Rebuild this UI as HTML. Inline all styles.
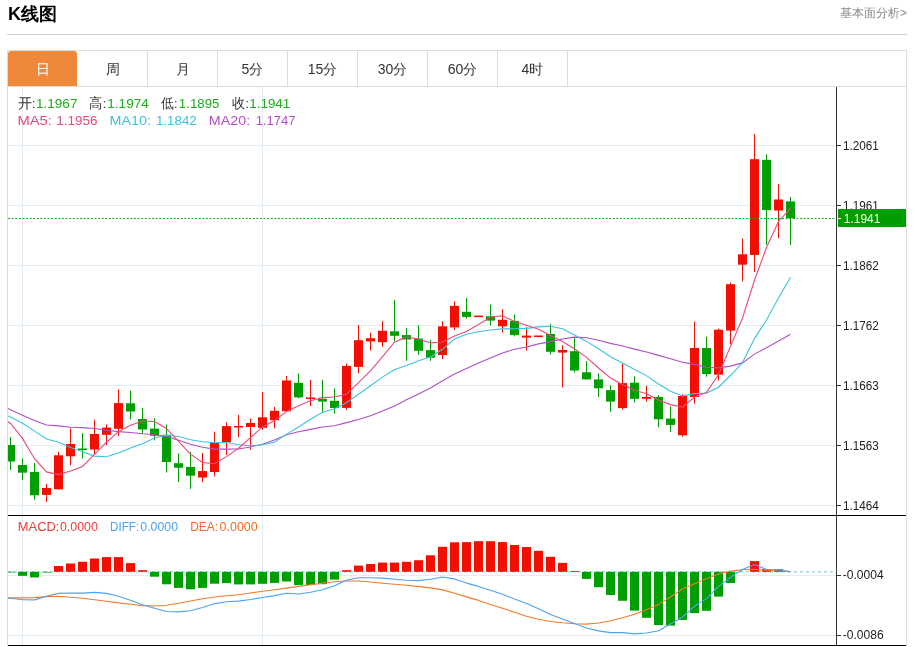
<!DOCTYPE html>
<html><head><meta charset="utf-8">
<style>
html,body{margin:0;padding:0;background:#fff;}
body{width:915px;height:647px;position:relative;overflow:hidden;will-change:transform;font-family:"Liberation Sans",sans-serif;}
.title{position:absolute;left:8px;top:2px;font-size:18px;font-weight:bold;color:#000;line-height:24px;}
.more{position:absolute;left:840px;top:5px;font-size:12px;color:#888;line-height:16px;}
.hr{position:absolute;left:7px;top:34px;width:900px;height:1px;background:#cfcfcf;}
.box{position:absolute;left:7px;top:50px;width:898px;height:595px;border:1px solid #dcdcdc;border-bottom:none;}
.tabs{position:absolute;left:0;top:0;}
.tabon{position:absolute;left:8px;top:51px;width:69px;height:35px;background:#f0883a;border-radius:3px 3px 0 0;}
.tt{position:absolute;top:52px;width:69px;height:35px;line-height:35px;text-align:center;font-size:14px;color:#333;}
.tt.on{color:#fff;}
.sep{position:absolute;top:51px;width:1px;height:35px;background:#dcdcdc;}
.tabline{position:absolute;left:8px;top:86px;width:898px;height:1px;background:#dcdcdc;}
svg{position:absolute;left:0;top:0;will-change:transform;}
.ax{font-size:12.5px;fill:#222;font-family:"Liberation Sans",sans-serif;}
.tx{font-family:"Liberation Sans",sans-serif;}
.info{position:absolute;left:18px;font-size:13px;line-height:16px;white-space:pre;}
</style></head><body>
<div class="title">K线图</div>
<div class="more">基本面分析&gt;</div>
<div class="hr"></div>
<div class="box"></div>
<div class="tabs">
<div class="tabon"></div>
<div class="tt on" style="left:8px">日</div>
<div class="tt" style="left:78px">周</div>
<div class="tt" style="left:148px">月</div>
<div class="tt" style="left:218px">5分</div>
<div class="tt" style="left:288px">15分</div>
<div class="tt" style="left:358px">30分</div>
<div class="tt" style="left:428px">60分</div>
<div class="tt" style="left:498px">4时</div>
<div class="sep" style="left:147px"></div>
<div class="sep" style="left:217px"></div>
<div class="sep" style="left:287px"></div>
<div class="sep" style="left:357px"></div>
<div class="sep" style="left:427px"></div>
<div class="sep" style="left:497px"></div>
<div class="sep" style="left:567px"></div>
</div>
<div class="tabline"></div>
<svg width="915" height="647" viewBox="0 0 915 647">
<defs>
<clipPath id="cm"><rect x="8" y="87" width="828" height="428"/></clipPath>
<clipPath id="cm2"><rect x="8" y="516" width="828" height="129"/></clipPath>
</defs>
<line x1="8" y1="145.5" x2="836" y2="145.5" stroke="#e3ecf3" stroke-width="1"/>
<line x1="8" y1="205.5" x2="836" y2="205.5" stroke="#e3ecf3" stroke-width="1"/>
<line x1="8" y1="265.5" x2="836" y2="265.5" stroke="#e3ecf3" stroke-width="1"/>
<line x1="8" y1="325.5" x2="836" y2="325.5" stroke="#e3ecf3" stroke-width="1"/>
<line x1="8" y1="385.5" x2="836" y2="385.5" stroke="#e3ecf3" stroke-width="1"/>
<line x1="8" y1="445.5" x2="836" y2="445.5" stroke="#e3ecf3" stroke-width="1"/>
<line x1="8" y1="505.5" x2="836" y2="505.5" stroke="#e3ecf3" stroke-width="1"/>
<line x1="8" y1="575.5" x2="836" y2="575.5" stroke="#e3ecf3" stroke-width="1"/>
<line x1="8" y1="635.5" x2="836" y2="635.5" stroke="#e3ecf3" stroke-width="1"/>
<line x1="22.5" y1="87" x2="22.5" y2="647" stroke="#e3ecf3" stroke-width="1"/>
<line x1="262.5" y1="87" x2="262.5" y2="647" stroke="#e3ecf3" stroke-width="1"/>
<g clip-path="url(#cm)">
<rect x="10.0" y="437.0" width="1" height="33.0" fill="#009e00"/>
<rect x="6.0" y="445.0" width="9" height="16.5" fill="#009e00"/>
<rect x="22.0" y="458.6" width="1" height="21.4" fill="#009e00"/>
<rect x="18.0" y="465.0" width="9" height="7.7" fill="#009e00"/>
<rect x="34.0" y="463.0" width="1" height="36.7" fill="#009e00"/>
<rect x="30.0" y="471.9" width="9" height="23.4" fill="#009e00"/>
<rect x="46.0" y="484.0" width="1" height="18.0" fill="#f00f00"/>
<rect x="42.0" y="488.0" width="9" height="6.9" fill="#f00f00"/>
<rect x="58.0" y="451.8" width="1" height="37.5" fill="#f00f00"/>
<rect x="54.0" y="455.3" width="9" height="34.0" fill="#f00f00"/>
<rect x="70.0" y="428.6" width="1" height="36.7" fill="#f00f00"/>
<rect x="66.0" y="444.0" width="9" height="12.3" fill="#f00f00"/>
<rect x="82.0" y="433.0" width="1" height="25.6" fill="#009e00"/>
<rect x="78.0" y="448.5" width="9" height="1.5" fill="#009e00"/>
<rect x="94.0" y="419.6" width="1" height="34.7" fill="#f00f00"/>
<rect x="90.0" y="434.0" width="9" height="15.5" fill="#f00f00"/>
<rect x="106.0" y="424.6" width="1" height="20.5" fill="#f00f00"/>
<rect x="102.0" y="427.6" width="9" height="7.2" fill="#f00f00"/>
<rect x="118.0" y="389.4" width="1" height="46.4" fill="#f00f00"/>
<rect x="114.0" y="403.1" width="9" height="25.7" fill="#f00f00"/>
<rect x="130.0" y="390.7" width="1" height="28.8" fill="#009e00"/>
<rect x="126.0" y="403.3" width="9" height="8.2" fill="#009e00"/>
<rect x="142.0" y="408.0" width="1" height="26.0" fill="#009e00"/>
<rect x="138.0" y="419.0" width="9" height="10.5" fill="#009e00"/>
<rect x="154.0" y="418.3" width="1" height="22.1" fill="#009e00"/>
<rect x="150.0" y="428.6" width="9" height="7.2" fill="#009e00"/>
<rect x="166.0" y="424.7" width="1" height="47.8" fill="#009e00"/>
<rect x="162.0" y="434.8" width="9" height="27.2" fill="#009e00"/>
<rect x="178.0" y="453.2" width="1" height="28.8" fill="#009e00"/>
<rect x="174.0" y="463.2" width="9" height="4.5" fill="#009e00"/>
<rect x="190.0" y="451.8" width="1" height="37.0" fill="#009e00"/>
<rect x="186.0" y="466.9" width="9" height="8.8" fill="#009e00"/>
<rect x="202.0" y="453.0" width="1" height="29.2" fill="#f00f00"/>
<rect x="198.0" y="471.1" width="9" height="6.4" fill="#f00f00"/>
<rect x="214.0" y="431.6" width="1" height="44.9" fill="#f00f00"/>
<rect x="210.0" y="442.3" width="9" height="29.7" fill="#f00f00"/>
<rect x="226.0" y="422.4" width="1" height="32.6" fill="#f00f00"/>
<rect x="222.0" y="426.1" width="9" height="16.2" fill="#f00f00"/>
<rect x="238.0" y="415.0" width="1" height="22.2" fill="#f00f00"/>
<rect x="234.0" y="426.0" width="9" height="1.5" fill="#f00f00"/>
<rect x="250.0" y="418.5" width="1" height="31.1" fill="#f00f00"/>
<rect x="246.0" y="423.0" width="9" height="4.0" fill="#f00f00"/>
<rect x="262.0" y="392.1" width="1" height="37.4" fill="#f00f00"/>
<rect x="258.0" y="417.3" width="9" height="10.5" fill="#f00f00"/>
<rect x="274.0" y="407.0" width="1" height="21.3" fill="#f00f00"/>
<rect x="270.0" y="410.8" width="9" height="9.4" fill="#f00f00"/>
<rect x="286.0" y="376.0" width="1" height="35.7" fill="#f00f00"/>
<rect x="282.0" y="380.5" width="9" height="30.8" fill="#f00f00"/>
<rect x="298.0" y="373.3" width="1" height="25.1" fill="#009e00"/>
<rect x="294.0" y="382.8" width="9" height="14.6" fill="#009e00"/>
<rect x="310.0" y="380.0" width="1" height="26.0" fill="#f00f00"/>
<rect x="306.0" y="397.5" width="9" height="1.5" fill="#f00f00"/>
<rect x="322.0" y="379.8" width="1" height="33.1" fill="#009e00"/>
<rect x="318.0" y="398.8" width="9" height="2.8" fill="#009e00"/>
<rect x="334.0" y="388.4" width="1" height="25.1" fill="#009e00"/>
<rect x="330.0" y="400.8" width="9" height="7.2" fill="#009e00"/>
<rect x="346.0" y="363.3" width="1" height="46.6" fill="#f00f00"/>
<rect x="342.0" y="365.9" width="9" height="42.0" fill="#f00f00"/>
<rect x="358.0" y="325.1" width="1" height="48.2" fill="#f00f00"/>
<rect x="354.0" y="340.2" width="9" height="26.7" fill="#f00f00"/>
<rect x="370.0" y="332.8" width="1" height="17.8" fill="#f00f00"/>
<rect x="366.0" y="338.2" width="9" height="3.2" fill="#f00f00"/>
<rect x="382.0" y="321.1" width="1" height="25.7" fill="#f00f00"/>
<rect x="378.0" y="330.8" width="9" height="11.4" fill="#f00f00"/>
<rect x="394.0" y="300.0" width="1" height="41.3" fill="#009e00"/>
<rect x="390.0" y="331.3" width="9" height="4.5" fill="#009e00"/>
<rect x="406.0" y="327.8" width="1" height="33.0" fill="#009e00"/>
<rect x="402.0" y="335.1" width="9" height="4.4" fill="#009e00"/>
<rect x="418.0" y="325.0" width="1" height="30.0" fill="#009e00"/>
<rect x="414.0" y="338.5" width="9" height="12.3" fill="#009e00"/>
<rect x="430.0" y="339.9" width="1" height="20.9" fill="#009e00"/>
<rect x="426.0" y="350.1" width="9" height="7.6" fill="#009e00"/>
<rect x="442.0" y="321.2" width="1" height="37.8" fill="#f00f00"/>
<rect x="438.0" y="326.3" width="9" height="28.7" fill="#f00f00"/>
<rect x="454.0" y="301.4" width="1" height="28.8" fill="#f00f00"/>
<rect x="450.0" y="305.9" width="9" height="21.5" fill="#f00f00"/>
<rect x="466.0" y="297.8" width="1" height="21.0" fill="#009e00"/>
<rect x="462.0" y="311.8" width="9" height="5.2" fill="#009e00"/>
<rect x="474.0" y="315.6" width="9" height="1.5" fill="#f00f00"/>
<rect x="490.0" y="304.7" width="1" height="20.8" fill="#009e00"/>
<rect x="486.0" y="316.3" width="9" height="4.3" fill="#009e00"/>
<rect x="502.0" y="309.3" width="1" height="23.2" fill="#f00f00"/>
<rect x="498.0" y="319.8" width="9" height="6.5" fill="#f00f00"/>
<rect x="514.0" y="314.7" width="1" height="21.7" fill="#009e00"/>
<rect x="510.0" y="320.9" width="9" height="14.2" fill="#009e00"/>
<rect x="526.0" y="327.1" width="1" height="23.5" fill="#f00f00"/>
<rect x="522.0" y="335.6" width="9" height="2.0" fill="#f00f00"/>
<rect x="534.0" y="335.5" width="9" height="1.5" fill="#f00f00"/>
<rect x="550.0" y="323.7" width="1" height="30.9" fill="#009e00"/>
<rect x="546.0" y="334.0" width="9" height="17.8" fill="#009e00"/>
<rect x="562.0" y="345.3" width="1" height="42.1" fill="#f00f00"/>
<rect x="558.0" y="350.0" width="9" height="2.6" fill="#f00f00"/>
<rect x="574.0" y="337.0" width="1" height="35.5" fill="#009e00"/>
<rect x="570.0" y="351.2" width="9" height="19.3" fill="#009e00"/>
<rect x="586.0" y="361.2" width="1" height="18.2" fill="#009e00"/>
<rect x="582.0" y="372.3" width="9" height="7.1" fill="#009e00"/>
<rect x="598.0" y="373.2" width="1" height="23.8" fill="#009e00"/>
<rect x="594.0" y="379.4" width="9" height="8.9" fill="#009e00"/>
<rect x="610.0" y="385.3" width="1" height="26.5" fill="#009e00"/>
<rect x="606.0" y="390.1" width="9" height="11.5" fill="#009e00"/>
<rect x="622.0" y="363.6" width="1" height="46.0" fill="#f00f00"/>
<rect x="618.0" y="383.1" width="9" height="25.0" fill="#f00f00"/>
<rect x="634.0" y="376.2" width="1" height="26.4" fill="#009e00"/>
<rect x="630.0" y="382.7" width="9" height="16.1" fill="#009e00"/>
<rect x="646.0" y="385.9" width="1" height="15.7" fill="#f00f00"/>
<rect x="642.0" y="397.0" width="9" height="1.8" fill="#f00f00"/>
<rect x="658.0" y="395.1" width="1" height="32.1" fill="#009e00"/>
<rect x="654.0" y="397.0" width="9" height="22.3" fill="#009e00"/>
<rect x="670.0" y="406.5" width="1" height="25.5" fill="#009e00"/>
<rect x="666.0" y="418.6" width="9" height="6.3" fill="#009e00"/>
<rect x="682.0" y="394.2" width="1" height="42.6" fill="#f00f00"/>
<rect x="678.0" y="395.9" width="9" height="39.4" fill="#f00f00"/>
<rect x="694.0" y="321.6" width="1" height="81.9" fill="#f00f00"/>
<rect x="690.0" y="348.0" width="9" height="49.0" fill="#f00f00"/>
<rect x="706.0" y="336.8" width="1" height="40.0" fill="#009e00"/>
<rect x="702.0" y="348.0" width="9" height="26.0" fill="#009e00"/>
<rect x="718.0" y="328.6" width="1" height="51.9" fill="#f00f00"/>
<rect x="714.0" y="329.7" width="9" height="45.0" fill="#f00f00"/>
<rect x="730.0" y="282.5" width="1" height="61.9" fill="#f00f00"/>
<rect x="726.0" y="284.2" width="9" height="46.4" fill="#f00f00"/>
<rect x="742.0" y="238.5" width="1" height="42.9" fill="#f00f00"/>
<rect x="738.0" y="254.3" width="9" height="10.4" fill="#f00f00"/>
<rect x="754.0" y="134.1" width="1" height="137.9" fill="#f00f00"/>
<rect x="750.0" y="159.2" width="9" height="95.7" fill="#f00f00"/>
<rect x="766.0" y="154.4" width="1" height="90.5" fill="#009e00"/>
<rect x="762.0" y="159.8" width="9" height="50.3" fill="#009e00"/>
<rect x="778.0" y="184.0" width="1" height="54.2" fill="#f00f00"/>
<rect x="774.0" y="199.5" width="9" height="11.0" fill="#f00f00"/>
<rect x="790.0" y="197.0" width="1" height="48.0" fill="#009e00"/>
<rect x="786.0" y="201.4" width="9" height="16.8" fill="#009e00"/>
</g>
<g clip-path="url(#cm)">
<polyline points="-1.5,404.5 10.5,409.7 22.5,415.3 34.5,420.5 46.5,425.0 58.5,425.9 70.5,427.2 82.5,427.6 94.5,428.5 106.5,430.2 118.5,431.6 130.5,432.5 142.5,433.8 154.5,434.7 166.5,436.4 178.5,440.3 190.5,444.3 202.5,447.3 214.5,449.1 226.5,449.1 238.5,449.0 250.5,447.0 262.5,444.3 274.5,440.0 286.5,434.7 298.5,431.8 310.5,429.4 322.5,427.0 334.5,425.7 346.5,422.6 358.5,419.5 370.5,415.8 382.5,410.9 394.5,405.9 406.5,399.8 418.5,393.9 430.5,388.0 442.5,380.8 454.5,374.0 466.5,368.5 478.5,363.0 490.5,357.9 502.5,353.0 514.5,349.2 526.5,347.0 538.5,343.9 550.5,341.6 562.5,339.0 574.5,337.1 586.5,337.8 598.5,340.2 610.5,343.4 622.5,346.0 634.5,349.1 646.5,352.0 658.5,355.4 670.5,358.8 682.5,362.3 694.5,364.4 706.5,367.2 718.5,367.9 730.5,366.1 742.5,362.9 754.5,354.1 766.5,347.8 778.5,341.0 790.5,334.3" fill="none" stroke="#b04fc4" stroke-width="1.1"/>
<polyline points="-1.5,411.0 10.5,417.0 22.5,423.3 34.5,431.1 46.5,439.0 58.5,442.3 70.5,447.6 82.5,451.8 94.5,456.1 106.5,456.8 118.5,453.1 130.5,448.1 142.5,443.8 154.5,437.9 166.5,435.3 178.5,436.5 190.5,439.7 202.5,441.8 214.5,442.6 226.5,442.5 238.5,444.8 250.5,445.9 262.5,444.7 274.5,442.2 286.5,434.1 298.5,427.0 310.5,419.2 322.5,412.2 334.5,408.8 346.5,402.8 358.5,394.2 370.5,385.7 382.5,377.1 394.5,369.6 406.5,365.5 418.5,360.8 430.5,356.9 442.5,349.3 454.5,339.1 466.5,334.2 478.5,331.8 490.5,330.0 502.5,328.9 514.5,328.8 526.5,328.4 538.5,326.9 550.5,326.3 562.5,328.7 574.5,335.1 586.5,341.4 598.5,348.7 610.5,356.8 622.5,363.1 634.5,369.5 646.5,375.6 658.5,384.0 670.5,391.3 682.5,395.9 694.5,393.6 706.5,393.1 718.5,387.2 730.5,375.5 742.5,362.6 754.5,338.6 766.5,320.0 778.5,298.0 790.5,277.3" fill="none" stroke="#3cc3de" stroke-width="1.1"/>
<polyline points="-1.5,415.0 10.5,423.5 22.5,438.4 34.5,458.7 46.5,471.9 58.5,474.6 70.5,471.1 82.5,466.5 94.5,454.3 106.5,442.2 118.5,431.7 130.5,425.2 142.5,421.1 154.5,421.5 166.5,428.4 178.5,441.3 190.5,454.1 202.5,462.5 214.5,463.8 226.5,456.6 238.5,448.2 250.5,437.7 262.5,426.9 274.5,420.6 286.5,411.5 298.5,405.8 310.5,400.7 322.5,397.6 334.5,397.0 346.5,394.1 358.5,382.6 370.5,370.8 382.5,356.6 394.5,342.2 406.5,336.9 418.5,339.0 430.5,342.9 442.5,342.0 454.5,336.0 466.5,331.5 478.5,324.5 490.5,317.1 502.5,315.8 514.5,321.6 526.5,325.3 538.5,329.3 550.5,335.6 562.5,341.6 574.5,348.7 586.5,357.4 598.5,368.0 610.5,378.0 622.5,384.6 634.5,390.2 646.5,393.8 658.5,400.0 670.5,404.6 682.5,407.2 694.5,397.0 706.5,392.4 718.5,374.5 730.5,346.4 742.5,318.0 754.5,280.3 766.5,247.5 778.5,221.5 790.5,208.3" fill="none" stroke="#ea4a7c" stroke-width="1.1"/>
</g>
<line x1="8" y1="218.5" x2="836" y2="218.5" stroke="#16a816" stroke-width="1" stroke-dasharray="2,1.6"/>
<g clip-path="url(#cm2)">
<line x1="8" y1="571.8" x2="836" y2="571.8" stroke="#9fd6f0" stroke-width="1.4" stroke-dasharray="3,3"/>
<rect x="6.0" y="571.8" width="9" height="0.7" fill="#009e00"/>
<rect x="18.0" y="571.8" width="9" height="4.0" fill="#009e00"/>
<rect x="30.0" y="571.8" width="9" height="5.6" fill="#009e00"/>
<rect x="42.0" y="571.8" width="9" height="0.7" fill="#009e00"/>
<rect x="54.0" y="566.0" width="9" height="5.8" fill="#f00f00"/>
<rect x="66.0" y="563.5" width="9" height="8.3" fill="#f00f00"/>
<rect x="78.0" y="561.8" width="9" height="10.0" fill="#f00f00"/>
<rect x="90.0" y="558.5" width="9" height="13.3" fill="#f00f00"/>
<rect x="102.0" y="557.1" width="9" height="14.7" fill="#f00f00"/>
<rect x="114.0" y="557.1" width="9" height="14.7" fill="#f00f00"/>
<rect x="126.0" y="563.1" width="9" height="8.7" fill="#f00f00"/>
<rect x="138.0" y="570.2" width="9" height="1.6" fill="#f00f00"/>
<rect x="150.0" y="571.8" width="9" height="4.9" fill="#009e00"/>
<rect x="162.0" y="571.8" width="9" height="12.5" fill="#009e00"/>
<rect x="174.0" y="571.8" width="9" height="16.1" fill="#009e00"/>
<rect x="186.0" y="571.8" width="9" height="17.5" fill="#009e00"/>
<rect x="198.0" y="571.8" width="9" height="16.1" fill="#009e00"/>
<rect x="210.0" y="571.8" width="9" height="11.9" fill="#009e00"/>
<rect x="222.0" y="571.8" width="9" height="11.3" fill="#009e00"/>
<rect x="234.0" y="571.8" width="9" height="12.6" fill="#009e00"/>
<rect x="246.0" y="571.8" width="9" height="12.6" fill="#009e00"/>
<rect x="258.0" y="571.8" width="9" height="12.0" fill="#009e00"/>
<rect x="270.0" y="571.8" width="9" height="11.1" fill="#009e00"/>
<rect x="282.0" y="571.8" width="9" height="9.7" fill="#009e00"/>
<rect x="294.0" y="571.8" width="9" height="13.3" fill="#009e00"/>
<rect x="306.0" y="571.8" width="9" height="13.3" fill="#009e00"/>
<rect x="318.0" y="571.8" width="9" height="12.4" fill="#009e00"/>
<rect x="330.0" y="571.8" width="9" height="7.8" fill="#009e00"/>
<rect x="342.0" y="570.2" width="9" height="1.6" fill="#f00f00"/>
<rect x="354.0" y="565.6" width="9" height="6.2" fill="#f00f00"/>
<rect x="366.0" y="564.0" width="9" height="7.8" fill="#f00f00"/>
<rect x="378.0" y="562.6" width="9" height="9.2" fill="#f00f00"/>
<rect x="390.0" y="562.6" width="9" height="9.2" fill="#f00f00"/>
<rect x="402.0" y="561.8" width="9" height="10.0" fill="#f00f00"/>
<rect x="414.0" y="560.2" width="9" height="11.6" fill="#f00f00"/>
<rect x="426.0" y="555.3" width="9" height="16.5" fill="#f00f00"/>
<rect x="438.0" y="546.8" width="9" height="25.0" fill="#f00f00"/>
<rect x="450.0" y="542.3" width="9" height="29.5" fill="#f00f00"/>
<rect x="462.0" y="542.1" width="9" height="29.7" fill="#f00f00"/>
<rect x="474.0" y="541.2" width="9" height="30.6" fill="#f00f00"/>
<rect x="486.0" y="541.2" width="9" height="30.6" fill="#f00f00"/>
<rect x="498.0" y="542.1" width="9" height="29.7" fill="#f00f00"/>
<rect x="510.0" y="545.0" width="9" height="26.8" fill="#f00f00"/>
<rect x="522.0" y="547.0" width="9" height="24.8" fill="#f00f00"/>
<rect x="534.0" y="550.8" width="9" height="21.0" fill="#f00f00"/>
<rect x="546.0" y="556.8" width="9" height="15.0" fill="#f00f00"/>
<rect x="558.0" y="562.9" width="9" height="8.9" fill="#f00f00"/>
<rect x="570.0" y="571.0" width="9" height="0.8" fill="#f00f00"/>
<rect x="582.0" y="571.8" width="9" height="7.1" fill="#009e00"/>
<rect x="594.0" y="571.8" width="9" height="15.4" fill="#009e00"/>
<rect x="606.0" y="571.8" width="9" height="23.2" fill="#009e00"/>
<rect x="618.0" y="571.8" width="9" height="29.0" fill="#009e00"/>
<rect x="630.0" y="571.8" width="9" height="38.8" fill="#009e00"/>
<rect x="642.0" y="571.8" width="9" height="46.0" fill="#009e00"/>
<rect x="654.0" y="571.8" width="9" height="53.3" fill="#009e00"/>
<rect x="666.0" y="571.8" width="9" height="53.8" fill="#009e00"/>
<rect x="678.0" y="571.8" width="9" height="48.2" fill="#009e00"/>
<rect x="690.0" y="571.8" width="9" height="41.3" fill="#009e00"/>
<rect x="702.0" y="571.8" width="9" height="39.0" fill="#009e00"/>
<rect x="714.0" y="571.8" width="9" height="24.8" fill="#009e00"/>
<rect x="726.0" y="571.8" width="9" height="11.2" fill="#009e00"/>
<rect x="750.0" y="561.1" width="9" height="10.7" fill="#f00f00"/>
<rect x="762.0" y="569.2" width="9" height="2.6" fill="#f00f00"/>
<rect x="774.0" y="569.2" width="9" height="2.6" fill="#f00f00"/>
<polyline points="-1.5,597.8 10.5,597.9 22.5,597.9 34.5,597.6 46.5,596.6 58.5,596.2 70.5,597.3 82.5,598.3 94.5,599.7 106.5,601.2 118.5,602.9 130.5,604.3 142.5,605.6 154.5,606.0 166.5,605.2 178.5,603.3 190.5,601.0 202.5,598.8 214.5,597.0 226.5,595.8 238.5,594.7 250.5,593.0 262.5,591.2 274.5,589.7 286.5,588.1 298.5,586.4 310.5,584.8 322.5,583.1 334.5,581.8 346.5,581.0 358.5,581.0 370.5,582.0 382.5,583.2 394.5,584.3 406.5,585.3 418.5,586.6 430.5,587.9 442.5,589.9 454.5,593.3 466.5,596.9 478.5,600.4 490.5,604.4 502.5,608.3 514.5,612.2 526.5,616.2 538.5,619.2 550.5,621.5 562.5,622.8 574.5,623.8 586.5,624.1 598.5,623.0 610.5,620.8 622.5,617.8 634.5,614.3 646.5,609.7 658.5,604.4 670.5,597.0 682.5,589.0 694.5,583.8 706.5,578.7 718.5,574.1 730.5,571.1 742.5,569.8 754.5,569.2 766.5,570.3 778.5,570.8 790.5,571.8" fill="none" stroke="#f47a2a" stroke-width="1.1" stroke-linejoin="round"/>
<polyline points="-1.5,597.6 10.5,598.3 22.5,599.7 34.5,599.9 46.5,596.2 58.5,593.4 70.5,593.0 82.5,593.1 94.5,592.4 106.5,593.4 118.5,596.2 130.5,600.3 142.5,604.7 154.5,608.2 166.5,611.5 178.5,611.9 190.5,610.8 202.5,607.5 214.5,603.6 226.5,601.8 238.5,601.1 250.5,599.5 262.5,597.5 274.5,595.6 286.5,593.3 298.5,594.0 310.5,592.3 322.5,589.7 334.5,585.7 346.5,580.3 358.5,577.7 370.5,577.7 382.5,578.1 394.5,579.3 406.5,580.3 418.5,580.6 430.5,579.3 442.5,577.0 454.5,578.9 466.5,583.1 478.5,586.4 490.5,590.3 502.5,594.3 514.5,599.1 526.5,603.4 538.5,608.7 550.5,614.6 562.5,618.9 574.5,623.4 586.5,628.0 598.5,630.9 610.5,632.6 622.5,632.6 634.5,633.9 646.5,633.0 658.5,630.7 670.5,624.0 682.5,617.0 694.5,606.3 706.5,598.6 718.5,586.4 730.5,577.2 742.5,569.5 754.5,564.5 766.5,569.5 778.5,569.8 790.5,571.5" fill="none" stroke="#4ba4ee" stroke-width="1.1" stroke-linejoin="round"/>
</g>
<line x1="836.5" y1="87" x2="836.5" y2="646" stroke="#333" stroke-width="1"/>
<line x1="8" y1="515.5" x2="906" y2="515.5" stroke="#000" stroke-width="1"/>
<line x1="8" y1="645.5" x2="906" y2="645.5" stroke="#000" stroke-width="1"/>
<line x1="837" y1="145.5" x2="841" y2="145.5" stroke="#333" stroke-width="1"/>
<text x="843.06" y="149.6" textLength="35.79" lengthAdjust="spacingAndGlyphs" class="ax">1.2061</text>
<line x1="837" y1="205.5" x2="841" y2="205.5" stroke="#333" stroke-width="1"/>
<text x="843.06" y="209.6" textLength="35.79" lengthAdjust="spacingAndGlyphs" class="ax">1.1961</text>
<line x1="837" y1="265.5" x2="841" y2="265.5" stroke="#333" stroke-width="1"/>
<text x="843.06" y="269.6" textLength="35.79" lengthAdjust="spacingAndGlyphs" class="ax">1.1862</text>
<line x1="837" y1="325.5" x2="841" y2="325.5" stroke="#333" stroke-width="1"/>
<text x="843.06" y="329.6" textLength="35.79" lengthAdjust="spacingAndGlyphs" class="ax">1.1762</text>
<line x1="837" y1="385.5" x2="841" y2="385.5" stroke="#333" stroke-width="1"/>
<text x="843.06" y="389.6" textLength="35.79" lengthAdjust="spacingAndGlyphs" class="ax">1.1663</text>
<line x1="837" y1="445.5" x2="841" y2="445.5" stroke="#333" stroke-width="1"/>
<text x="843.06" y="449.6" textLength="35.79" lengthAdjust="spacingAndGlyphs" class="ax">1.1563</text>
<line x1="837" y1="505.5" x2="841" y2="505.5" stroke="#333" stroke-width="1"/>
<text x="843.06" y="509.6" textLength="35.79" lengthAdjust="spacingAndGlyphs" class="ax">1.1464</text>
<line x1="837" y1="575.5" x2="841" y2="575.5" stroke="#333" stroke-width="1"/>
<text x="842.72" y="579.3" textLength="40.87" lengthAdjust="spacingAndGlyphs" class="ax">-0.0004</text>
<line x1="837" y1="635.5" x2="841" y2="635.5" stroke="#333" stroke-width="1"/>
<text x="842.72" y="639.3" textLength="40.87" lengthAdjust="spacingAndGlyphs" class="ax">-0.0086</text>
<rect x="838" y="209" width="68" height="18" fill="#009e00"/>
<line x1="837" y1="218.5" x2="841" y2="218.5" stroke="#fff" stroke-width="1"/>
<text x="843.74" y="222.9" textLength="36.62" lengthAdjust="spacingAndGlyphs" class="ax" style="fill:#fff">1.1941</text>
<text x="17.70" y="107.6" fill="#333" font-size="13.5" textLength="17.88" lengthAdjust="spacingAndGlyphs" class="tx">开:</text>
<text x="36.00" y="107.6" fill="#1aad19" font-size="13.5" textLength="41.45" lengthAdjust="spacingAndGlyphs" class="tx">1.1967</text>
<text x="89.43" y="107.6" fill="#333" font-size="13.5" textLength="16.77" lengthAdjust="spacingAndGlyphs" class="tx">高:</text>
<text x="107.30" y="107.6" fill="#1aad19" font-size="13.5" textLength="41.50" lengthAdjust="spacingAndGlyphs" class="tx">1.1974</text>
<text x="161.10" y="107.6" fill="#333" font-size="13.5" textLength="16.26" lengthAdjust="spacingAndGlyphs" class="tx">低:</text>
<text x="178.82" y="107.6" fill="#1aad19" font-size="13.5" textLength="40.62" lengthAdjust="spacingAndGlyphs" class="tx">1.1895</text>
<text x="232.33" y="107.6" fill="#333" font-size="13.5" textLength="16.77" lengthAdjust="spacingAndGlyphs" class="tx">收:</text>
<text x="249.31" y="107.6" fill="#1aad19" font-size="13.5" textLength="40.93" lengthAdjust="spacingAndGlyphs" class="tx">1.1941</text>
<text x="17.41" y="125.3" fill="#ea4a7c" font-size="13.5" textLength="34.37" lengthAdjust="spacingAndGlyphs" class="tx">MA5:</text>
<text x="56.30" y="125.3" fill="#ea4a7c" font-size="13.5" textLength="41.14" lengthAdjust="spacingAndGlyphs" class="tx">1.1956</text>
<text x="109.54" y="125.3" fill="#3cc3de" font-size="13.5" textLength="41.42" lengthAdjust="spacingAndGlyphs" class="tx">MA10:</text>
<text x="155.91" y="125.3" fill="#3cc3de" font-size="13.5" textLength="40.83" lengthAdjust="spacingAndGlyphs" class="tx">1.1842</text>
<text x="208.84" y="125.3" fill="#b04fc4" font-size="13.5" textLength="41.31" lengthAdjust="spacingAndGlyphs" class="tx">MA20:</text>
<text x="255.74" y="125.3" fill="#b04fc4" font-size="13.5" textLength="39.79" lengthAdjust="spacingAndGlyphs" class="tx">1.1747</text>
<text x="17.81" y="530.6" fill="#f03c3c" font-size="13" textLength="41.63" lengthAdjust="spacingAndGlyphs" class="tx">MACD:</text>
<text x="59.92" y="530.6" fill="#f03c3c" font-size="13" textLength="37.97" lengthAdjust="spacingAndGlyphs" class="tx">0.0000</text>
<text x="110.00" y="530.6" fill="#4ba4ee" font-size="13" textLength="29.12" lengthAdjust="spacingAndGlyphs" class="tx">DIFF:</text>
<text x="140.33" y="530.6" fill="#4ba4ee" font-size="13" textLength="37.76" lengthAdjust="spacingAndGlyphs" class="tx">0.0000</text>
<text x="190.18" y="530.6" fill="#f26a1c" font-size="13" textLength="27.82" lengthAdjust="spacingAndGlyphs" class="tx">DEA:</text>
<text x="219.62" y="530.6" fill="#f26a1c" font-size="13" textLength="38.07" lengthAdjust="spacingAndGlyphs" class="tx">0.0000</text>
</svg>
</body></html>
